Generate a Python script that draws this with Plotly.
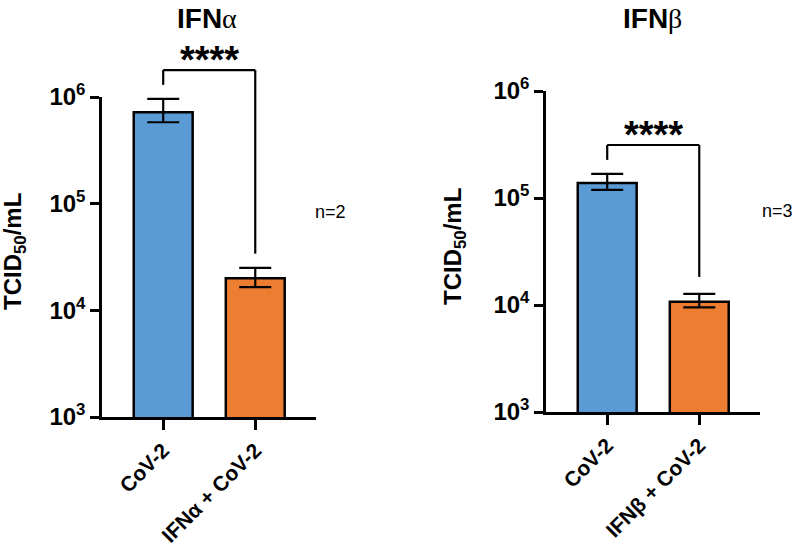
import numpy as np
import plotly.graph_objects as go

# ---------------- data ----------------
cats_a = ["CoV-2", "IFNα + CoV-2"]
mean_a = [7.2e5, 2.0e4]
upper_a = [9.6e5, 2.5e4]
lower_a = [5.8e5, 1.65e4]

cats_b = ["CoV-2", "IFNβ + CoV-2"]
mean_b = [1.38e5, 1.07e4]
upper_b = [1.68e5, 1.27e4]
lower_b = [1.19e5, 9.5e3]

colors = ["#5B9BD5", "#ED7D31"]
tick_vals = [1e3, 1e4, 1e5, 1e6]
tick_text = ["<b>10<sup>3</sup></b>", "<b>10<sup>4</sup></b>", "<b>10<sup>5</sup></b>", "<b>10<sup>6</sup></b>"]

# significance brackets: (left end, top, right end) heights
bracket_a = [1.30e6, 1.79e6, 3.4e4]
bracket_b = [2.27e5, 3.13e5, 1.83e4]
stars_y = [2.22e6, 3.9e5]
sig_label = "****"
n_labels = ["n=2", "n=3"]
titles = ["<b>IFN</b><span style='font-family:Liberation Serif'>α</span>",
          "<b>IFN</b><span style='font-family:Liberation Serif'>β</span>"]

FONT = "Arial, Liberation Sans, sans-serif"
YR = [3, 6]
XR = [-0.665, 1.66]
W, H = 800, 549

fig = go.Figure()

def add_panel(idx, cats, mean, upper, lower):
    xa = "x" if idx == 0 else "x2"
    ya = "y" if idx == 0 else "y2"
    fig.add_trace(go.Bar(
        x=[0, 1], y=mean, xaxis=xa, yaxis=ya, width=0.64,
        marker=dict(color=colors, line=dict(color="black", width=2.5)),
        error_y=dict(type="data", symmetric=False,
                     array=[u - m for u, m in zip(upper, mean)],
                     arrayminus=[m - l for m, l in zip(mean, lower)],
                     color="black", thickness=2.2, width=16),
        showlegend=False, hoverinfo="skip"))

add_panel(0, cats_a, mean_a, upper_a, lower_a)
add_panel(1, cats_b, mean_b, upper_b, lower_b)

def ydom(v):
    return (np.log10(v) - YR[0]) / (YR[1] - YR[0])

def xdom(x):
    return (x - XR[0]) / (XR[1] - XR[0])

shapes = []
annotations = []
for i, br in enumerate([bracket_a, bracket_b]):
    xr = "x domain" if i == 0 else "x2 domain"
    yr = "y domain" if i == 0 else "y2 domain"
    pts = [(0, br[0]), (0, br[1]), (1, br[1]), (1, br[2])]
    for (xa0, ya0), (xa1, ya1) in zip(pts[:-1], pts[1:]):
        shapes.append(dict(type="line", xref=xr, yref=yr,
                           x0=xdom(xa0), x1=xdom(xa1), y0=ydom(ya0), y1=ydom(ya1),
                           line=dict(color="black", width=2.2)))
    annotations.append(dict(text="<b>" + sig_label + "</b>", xref=xr, yref=yr,
                            x=xdom(0.5), y=ydom(stars_y[i]),
                            showarrow=False, font=dict(size=38, color="black", family=FONT),
                            xanchor="center", yanchor="middle"))

def px(x):
    return x / W

def py(y):
    return 1 - y / H

# titles, n labels, y-axis titles
annotations += [
    dict(text=titles[0], x=px(207), y=py(18), xref="paper", yref="paper", showarrow=False,
         font=dict(size=28, color="black", family=FONT), xanchor="center", yanchor="middle"),
    dict(text=titles[1], x=px(652), y=py(18), xref="paper", yref="paper", showarrow=False,
         font=dict(size=28, color="black", family=FONT), xanchor="center", yanchor="middle"),
    dict(text=n_labels[0], x=px(330), y=py(212), xref="paper", yref="paper", showarrow=False,
         font=dict(size=18, color="black", family=FONT), xanchor="center", yanchor="middle"),
    dict(text=n_labels[1], x=px(777), y=py(211), xref="paper", yref="paper", showarrow=False,
         font=dict(size=18, color="black", family=FONT), xanchor="center", yanchor="middle"),
]

ytitle = "<b>TCID<sub>50</sub>/mL</b>"
annotations += [
    dict(text=ytitle, x=px(14), y=py(252), xref="paper", yref="paper", showarrow=False,
         textangle=-90, font=dict(size=24, color="black", family=FONT), xanchor="center", yanchor="middle"),
    dict(text=ytitle, x=px(454), y=py(247), xref="paper", yref="paper", showarrow=False,
         textangle=-90, font=dict(size=24, color="black", family=FONT), xanchor="center", yanchor="middle"),
]

xaxis_common = dict(range=XR, tickvals=[0, 1], showline=True, linecolor="black", linewidth=2.5,
                    ticks="outside", ticklen=10, tickwidth=2.5, tickcolor="black", tickangle=-45,
                    showgrid=False, zeroline=False, automargin=False,
                    tickfont=dict(size=21, color="black", family=FONT))
yaxis_common = dict(type="log", range=YR, tickvals=tick_vals, ticktext=tick_text, showline=True,
                    linecolor="black", linewidth=2.5, ticks="outside", ticklen=9, tickwidth=2.5,
                    tickcolor="black", showgrid=False, zeroline=False, automargin=False,
                    tickfont=dict(size=24, color="black", family=FONT))

fig.update_layout(
    template="none",
    width=W, height=H, margin=dict(l=0, r=0, t=0, b=0, pad=0), autosize=False,
    paper_bgcolor="white", plot_bgcolor="white",
    xaxis=dict(xaxis_common, domain=[px(102), px(316)], anchor="y",
               ticktext=["<b>" + c + "</b>" for c in cats_a]),
    yaxis=dict(yaxis_common, domain=[py(417), py(97)], anchor="x"),
    xaxis2=dict(xaxis_common, domain=[px(546), px(760)], anchor="y2",
                ticktext=["<b>" + c + "</b>" for c in cats_b]),
    yaxis2=dict(yaxis_common, domain=[py(412), py(91)], anchor="x2"),
    shapes=shapes, annotations=annotations,
)

fig.write_html("out.html", config={"displayModeBar": False},
               post_script="document.body.style.margin='0px';")
